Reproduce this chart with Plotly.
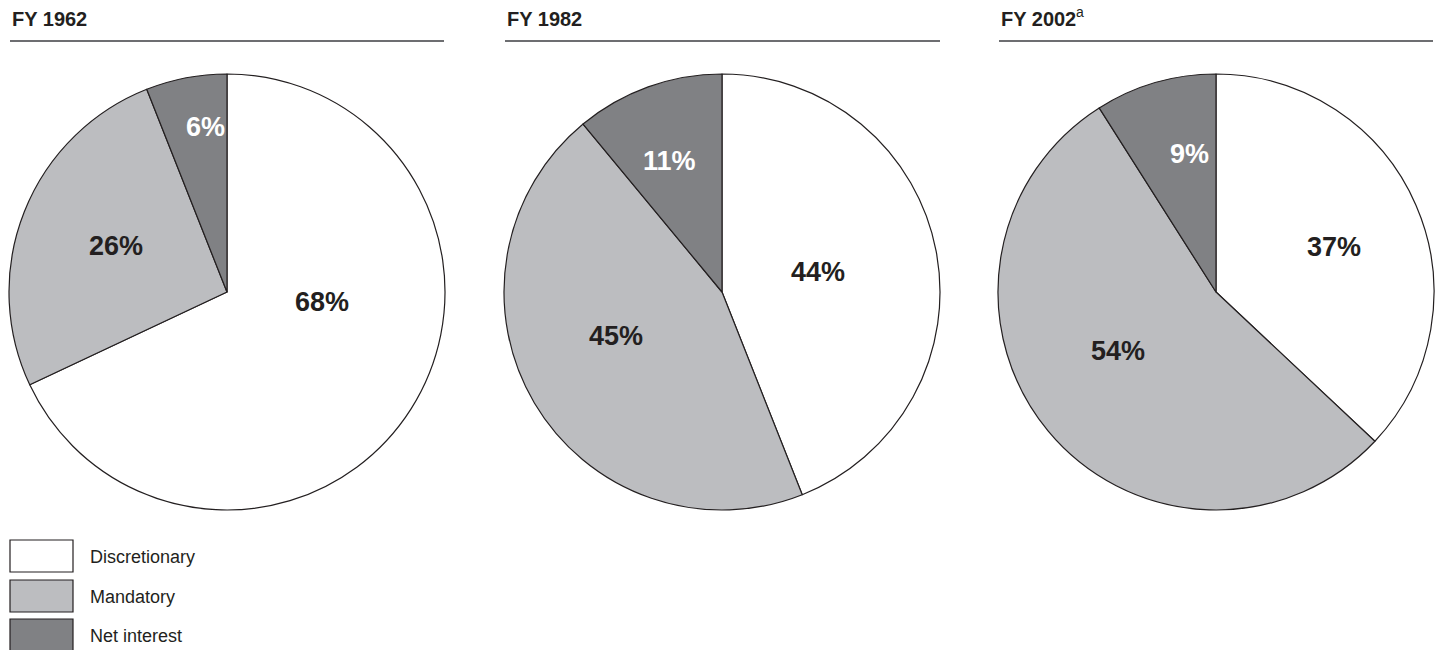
import plotly.graph_objects as go

# ---- data ----
years = ["FY 1962", "FY 1982", "FY 2002"]
footnote_marks = ["", "", "a"]
categories = ["Discretionary", "Mandatory", "Net interest"]
share_1962 = [68, 26, 6]
share_1982 = [44, 45, 11]
share_2002 = [37, 54, 9]
shares = [share_1962, share_1982, share_2002]

# ---- style ----
W, H = 1440, 650
colors = ["#FFFFFF", "#BCBDC0", "#808184"]
label_colors = ["#231F20", "#231F20", "#FFFFFF"]
edge = "#231F20"
font_family = "Liberation Sans, Arial, sans-serif"

pie_x = [(9, 445), (504, 940), (998, 1434)]   # pixel extents
pie_y = (74, 510)
title_x = [10, 505, 999]
mark_x = [0, 0, 1074]
rule_x = [(10, 444), (505, 940), (999, 1433)]
# label pixel positions per pie, per category
label_pos = [
    [(322, 302), (116, 246), (205, 127)],
    [(818, 272), (616, 336), (669, 161)],
    [(1334, 247), (1118, 351), (1189, 154)],
]

fig = go.Figure()
for i, vals in enumerate(shares):
    fig.add_trace(go.Pie(
        labels=categories, values=vals, sort=False, direction="clockwise",
        rotation=0, marker=dict(colors=colors, line=dict(color=edge, width=1.2)),
        textinfo="none", hoverinfo="label+percent", showlegend=False,
        domain=dict(x=[pie_x[i][0] / W, pie_x[i][1] / W],
                    y=[1 - pie_y[1] / H, 1 - pie_y[0] / H]),
    ))

annotations = []
shapes = []
for i, yr in enumerate(years):
    annotations.append(dict(
        x=title_x[i] / W, y=1 - 19 / H, xref="paper", yref="paper",
        xanchor="left", yanchor="middle", showarrow=False,
        text="<b>" + yr + "</b>",
        font=dict(family=font_family, size=20, color="#231F20")))
    if footnote_marks[i]:
        annotations.append(dict(
            x=mark_x[i] / W, y=1 - 12 / H, xref="paper", yref="paper",
            xanchor="left", yanchor="middle", showarrow=False,
            text=footnote_marks[i],
            font=dict(family=font_family, size=14, color="#231F20")))
    shapes.append(dict(type="line", xref="paper", yref="paper",
                       x0=rule_x[i][0] / W, x1=rule_x[i][1] / W,
                       y0=1 - 41 / H, y1=1 - 41 / H,
                       line=dict(color="#6D6E71", width=2)))
    for j, v in enumerate(shares[i]):
        px, py = label_pos[i][j]
        annotations.append(dict(
            x=px / W, y=1 - py / H, xref="paper", yref="paper",
            xanchor="center", yanchor="middle", showarrow=False,
            text="<b>%d%%</b>" % v,
            font=dict(family=font_family, size=27, color=label_colors[j])))

# legend
box_top = [540, 580, 619]
for j, cat in enumerate(categories):
    y0 = box_top[j]
    shapes.append(dict(type="rect", xref="paper", yref="paper",
                       x0=10 / W, x1=73 / W, y0=1 - (y0 + 32) / H, y1=1 - y0 / H,
                       fillcolor=colors[j], line=dict(color=edge, width=1.2)))
    annotations.append(dict(
        x=88 / W, y=1 - (y0 + 17) / H, xref="paper", yref="paper",
        xanchor="left", yanchor="middle", showarrow=False, text=cat,
        font=dict(family=font_family, size=18, color="#231F20")))

fig.update_layout(
    width=W, height=H, margin=dict(l=0, r=0, t=0, b=0),
    paper_bgcolor="white", plot_bgcolor="white",
    annotations=annotations, shapes=shapes,
)
fig.write_html("out.html")
